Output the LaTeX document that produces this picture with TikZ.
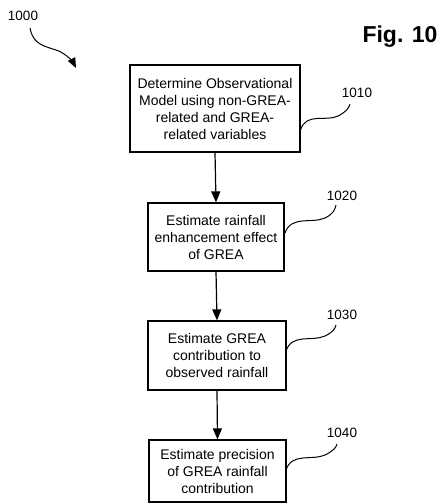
\documentclass[tikz,border=0pt]{standalone}
\usepackage{fontspec}
\setmainfont{Liberation Sans}
\usetikzlibrary{arrows.meta}
\begin{document}
\begin{tikzpicture}[x=1pt,y=-1pt,
  stepbox/.style={draw,line width=1.2pt,align=center,inner sep=2pt,font=\fontsize{14}{17}\selectfont},
  flow/.style={line width=1.2pt,-{Triangle[length=11pt,width=9pt]}},
  lead/.style={line width=1pt},
  reflabel/.style={font=\fontsize{13.5}{15}\selectfont},
]
\useasboundingbox (0,0) rectangle (440,504);
\node[stepbox,minimum width=170pt,minimum height=87pt] (b1) at (215,108.5) {Determine Observational\\Model using non-GREA-\\related and GREA-\\related variables};
\node[stepbox,minimum width=136pt,minimum height=68pt] (b2) at (216,237) {Estimate rainfall\\enhancement effect\\of GREA};
\node[stepbox,minimum width=138pt,minimum height=69pt] (b3) at (217,355.5) {Estimate GREA\\contribution to\\observed rainfall};
\node[stepbox,minimum width=137pt,minimum height=62pt] (b4) at (217.5,471) {Estimate precision\\of GREA rainfall\\contribution};
\draw[flow] (b1.south) -- (b2.north);
\draw[flow] (b2.south) -- (b3.north);
\draw[flow] (b3.south) -- (b4.north);
\node[reflabel] (l1010) at (357,93) {1010};
\node[reflabel] (l1020) at (342,196) {1020};
\node[reflabel] (l1030) at (342,315) {1030};
\node[reflabel] (l1040) at (342,433) {1040};
\node[reflabel] (l1000) at (23,16) {1000};
\node[font=\bfseries\fontsize{23}{26}\selectfont] (fig) at (400,37) {Fig. 10};
\coordinate (s1) at (300.5,130);
\coordinate (e1) at (350,104);
\coordinate (s2) at (285,233);
\coordinate (e2) at (336,205);
\coordinate (s3) at (286,351);
\coordinate (e3) at (336,325);
\coordinate (s4) at (286,470);
\coordinate (e4) at (337,444);
\draw[lead] (s1) .. controls (306,112) and (326,122) .. (338,116) .. controls (346,112) and (349,108) .. (e1);
\draw[lead] (s2) .. controls (291,215) and (312,224) .. (325,218) .. controls (333,214) and (335,210) .. (e2);
\draw[lead] (s3) .. controls (292,333) and (312,342) .. (325,336) .. controls (333,332) and (335,329) .. (e3);
\draw[lead] (s4) .. controls (292,452) and (312,461) .. (325,455) .. controls (333,451) and (336,448) .. (e4);
\coordinate (a0) at (30,28);
\coordinate (a1) at (76,68);
\draw[line width=1pt,-{Triangle[length=10pt,width=8pt]}] (a0) .. controls (34,50) and (54,46) .. (64,54) .. controls (70,58) and (73,62) .. (a1);
\end{tikzpicture}
\end{document}
